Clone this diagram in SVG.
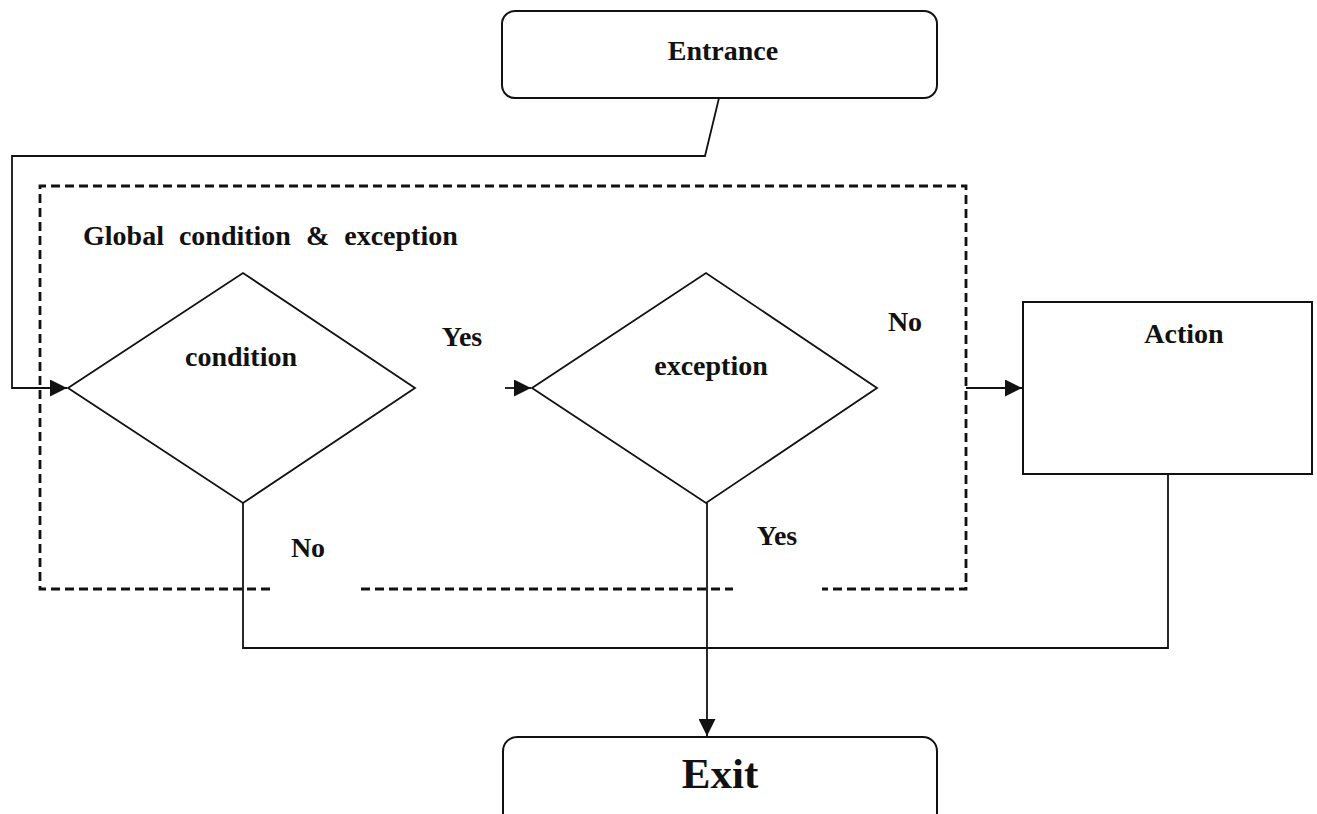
<svg xmlns="http://www.w3.org/2000/svg" width="1317" height="814" viewBox="0 0 1317 814">
<style>
.box{fill:#fff;stroke:#111;stroke-width:2}
.dia{fill:none;stroke:#111;stroke-width:1.8}
.line{fill:none;stroke:#111;stroke-width:1.8}
.dash{fill:none;stroke:#111;stroke-width:2.8;stroke-dasharray:9 5}
.t{font-family:"Liberation Serif","Times New Roman",serif;font-weight:bold;font-size:28px;fill:#111}
.c{text-anchor:middle}
.big{font-size:43px}
</style>
<defs>
<marker id="arr" viewBox="0 0 10 10" refX="10" refY="5" markerWidth="17" markerHeight="17" markerUnits="userSpaceOnUse" orient="auto">
<path d="M0,0 L10,5 L0,10 Z" fill="#111"/>
</marker>
</defs>
<rect width="1317" height="814" fill="#fff"/>
<g id="group-box">
<path class="dash" d="M270,589 H40 V186 H966 V589 H822"/>
<path class="dash" d="M361,589 H733"/>
<text class="t" x="83" y="245" word-spacing="8">Global condition &amp; exception</text>
</g>
<g id="connectors">
<path class="line" d="M719,98 L705,156 H12 V388 H67" marker-end="url(#arr)"/>
<path class="line" d="M505,388 H531" marker-end="url(#arr)"/>
<path class="line" d="M966,388 H1022" marker-end="url(#arr)"/>
<path class="line" d="M243,503 V648 H1168 V474"/>
<path class="line" d="M707,503 V736" marker-end="url(#arr)"/>
<text class="t c" x="462" y="346">Yes</text>
<text class="t c" x="905" y="331">No</text>
<text class="t c" x="308" y="557">No</text>
<text class="t c" x="777" y="545">Yes</text>
</g>
<g id="entrance">
<rect class="box" x="502" y="11" width="435" height="87" rx="13"/>
<text class="t c" x="723" y="60">Entrance</text>
</g>
<g id="condition">
<path class="dia" d="M68,388 L243,273 L415,388 L243,503 Z"/>
<text class="t c" x="241" y="366">condition</text>
</g>
<g id="exception">
<path class="dia" d="M532,388 L706,273 L877,388 L706,503 Z"/>
<text class="t c" x="711" y="375">exception</text>
</g>
<g id="action">
<rect class="box" x="1023" y="302" width="289" height="172" stroke-width="2.5"/>
<text class="t c" x="1184" y="343">Action</text>
</g>
<g id="exit">
<rect class="box" x="503" y="737" width="434" height="110" rx="14"/>
<text class="t c big" x="720" y="788">Exit</text>
</g>
</svg>
